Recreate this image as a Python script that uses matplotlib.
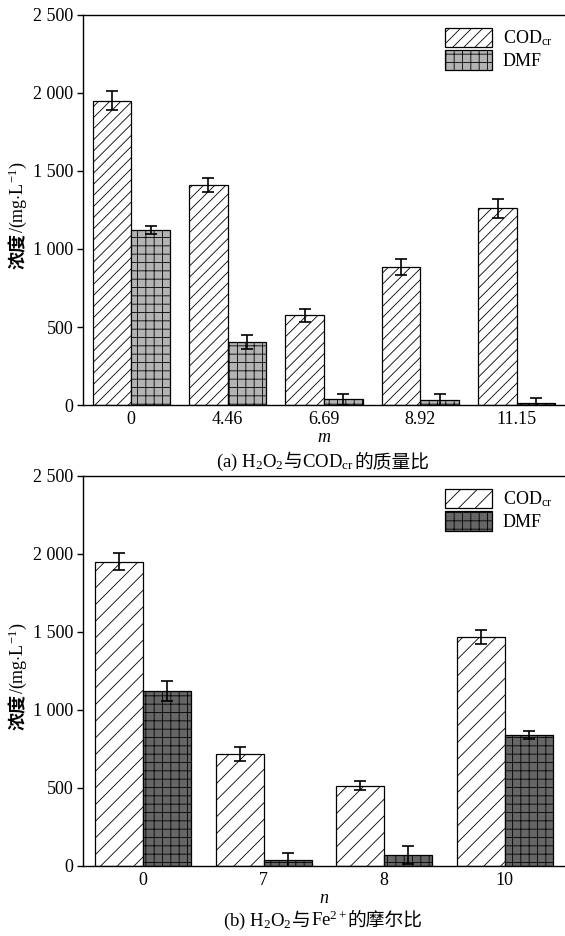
import numpy as np
import matplotlib
matplotlib.use("Agg")
import matplotlib.pyplot as plt
from matplotlib.offsetbox import TextArea, HPacker, AnchoredOffsetbox
from matplotlib.patches import Patch

plt.rcParams['font.family'] = ['Liberation Serif', 'Noto Sans CJK SC']
plt.rcParams['mathtext.fontset'] = 'custom'
plt.rcParams['mathtext.rm'] = 'Liberation Serif'
plt.rcParams['mathtext.it'] = 'Liberation Serif:italic'
plt.rcParams['hatch.linewidth'] = 0.6

# (a) H2O2 / CODcr mass ratio
m_labels = ['0', '4.46', '6.69', '8.92', '11.15']
cod_a = [1950, 1410, 575, 885, 1260]
cod_a_err = [60, 45, 40, 50, 60]
dmf_a = [1120, 405, 38, 30, 15]
dmf_a_err = [25, 45, 35, 40, 30]

# (b) H2O2 / Fe2+ molar ratio
n_labels = ['0', '7', '8', '10']
cod_b = [1950, 720, 515, 1470]
cod_b_err = [55, 45, 30, 45]
dmf_b = [1120, 40, 70, 840]
dmf_b_err = [65, 45, 55, 25]

yticks = [0, 500, 1000, 1500, 2000, 2500]
ytick_labels = ['0', '500', '1 000', '1 500', '2 000', '2 500']

FS = 13
CJK = 'Noto Sans CJK SC'
SERIF = 'Liberation Serif'


def draw_panel(ax, labels, cod, cod_err, dmf, dmf_err, cod_hatch, dmf_color, xlabel):
    x = np.arange(len(labels))
    w = 0.4
    ekw = dict(ecolor='black', elinewidth=1.2, capsize=4, capthick=1.2)
    ax.bar(x - w / 2, cod, w, yerr=cod_err, color='white', edgecolor='black',
           linewidth=0.9, hatch=cod_hatch, error_kw=ekw)
    ax.bar(x + w / 2, dmf, w, yerr=dmf_err, color=dmf_color, edgecolor='black',
           linewidth=0.9, hatch='++', error_kw=ekw)
    ax.set_xlim(-0.5, len(labels) - 0.5)
    ax.set_ylim(0, 2500)
    ax.set_yticks(yticks)
    ax.set_yticklabels(ytick_labels, fontsize=FS)
    ax.set_xticks(x)
    ax.set_xticklabels(labels, fontsize=FS)
    ax.tick_params(axis='x', length=0, pad=4)
    ax.tick_params(axis='y', direction='out', length=4, width=1, pad=3)
    ax.spines['right'].set_visible(False)
    for s in ['left', 'bottom', 'top']:
        ax.spines[s].set_linewidth(1.0)
    ax.set_xlabel(xlabel, fontsize=FS, style='italic', labelpad=1)

    handles = [Patch(facecolor='white', edgecolor='black', hatch=cod_hatch, linewidth=0.9),
               Patch(facecolor=dmf_color, edgecolor='black', hatch='++', linewidth=0.9)]
    ax.legend(handles, [r'COD$_{\rm cr}$', 'DMF'], loc='upper right', frameon=False,
              fontsize=FS, handlelength=2.6, handleheight=1.3, handletextpad=0.6,
              labelspacing=0.1, borderaxespad=0.3, bbox_to_anchor=(1.0, 1.0))

    # y label: bold CJK part + serif unit part
    ax.text(-0.135, 0.44, '浓度', rotation=90, transform=ax.transAxes,
            ha='center', va='top', fontsize=FS, family=CJK, fontweight='bold')
    ax.text(-0.135, 0.44, r'/(mg$\cdot$L$^{-1}$)', rotation=90, transform=ax.transAxes,
            ha='center', va='bottom', fontsize=FS, family=SERIF)


def caption(fig, parts, y):
    boxes = [TextArea(t, textprops=dict(fontsize=13.5, family=f)) for t, f in parts]
    pack = HPacker(children=boxes, align='baseline', pad=0, sep=0)
    ab = AnchoredOffsetbox(loc='center', child=pack, frameon=False,
                           bbox_to_anchor=(0.571, y), bbox_transform=fig.transFigure,
                           borderpad=0, pad=0)
    fig.add_artist(ab)


fig = plt.figure(figsize=(5.65, 9.36), dpi=100)
ax1 = fig.add_axes([0.147, 0.5673, 0.853, 0.4167])
ax2 = fig.add_axes([0.147, 0.0748, 0.853, 0.4167])

draw_panel(ax1, m_labels, cod_a, cod_a_err, dmf_a, dmf_a_err, '///', '#b3b3b3', 'm')
draw_panel(ax2, n_labels, cod_b, cod_b_err, dmf_b, dmf_b_err, '//', '#666666', 'n')

caption(fig, [(r'(a) H$_2$O$_2$', SERIF), ('与', CJK), (r'COD$_{\rm cr}$', SERIF),
              ('的质量比', CJK)], 1 - 462 / 936)
caption(fig, [(r'(b) H$_2$O$_2$', SERIF), ('与', CJK), (r'Fe$^{2+}$', SERIF),
              ('的摩尔比', CJK)], 1 - 921 / 936)

fig.savefig('out.png', dpi=100)
